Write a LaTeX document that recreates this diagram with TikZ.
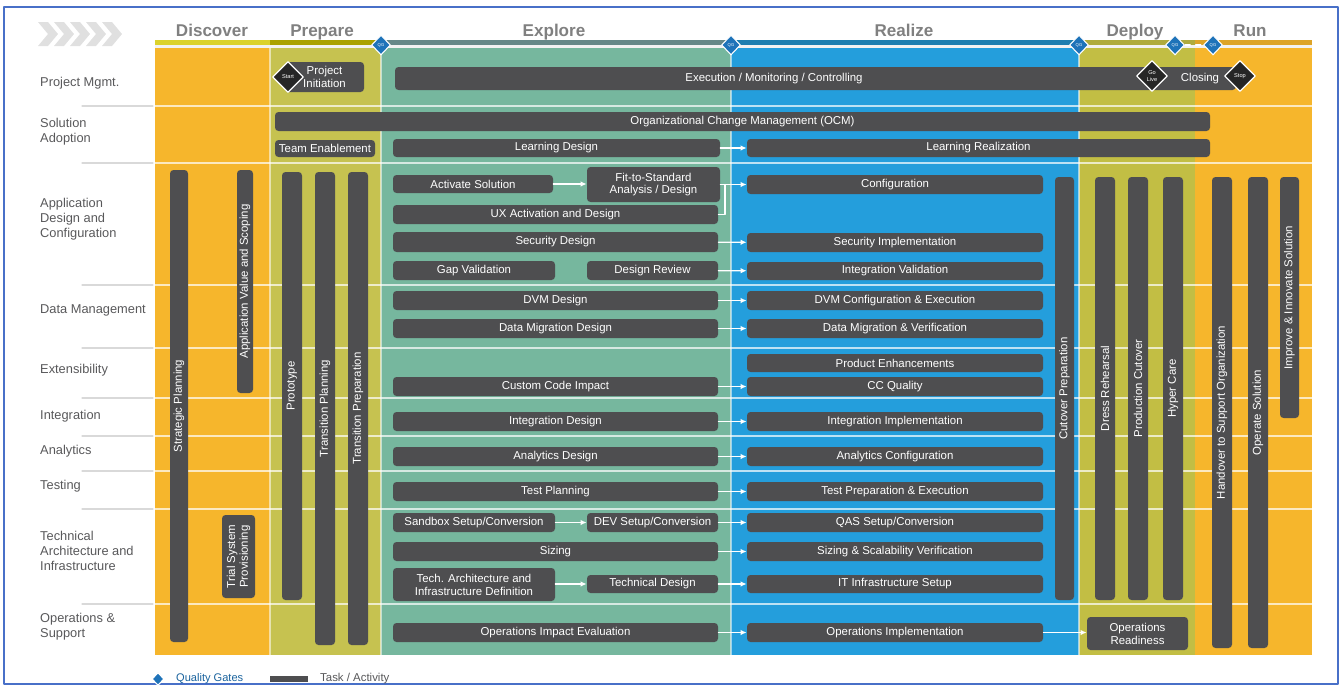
\documentclass[tikz,border=0pt]{standalone}
\usepackage{fontspec}
\setmainfont{Liberation Sans}
\usetikzlibrary{arrows.meta,shapes.geometric}

\definecolor{discoverclr}{RGB}{246,182,44}
\definecolor{prepareclr}{RGB}{198,194,80}
\definecolor{exploreclr}{RGB}{118,183,158}
\definecolor{realizeclr}{RGB}{36,158,220}
\definecolor{deployclr}{RGB}{194,190,68}
\definecolor{runclr}{RGB}{246,182,44}
\definecolor{taskclr}{RGB}{78,78,80}
\definecolor{gateclr}{RGB}{30,115,185}
\definecolor{labelclr}{RGB}{88,88,90}
\definecolor{frameclr}{RGB}{72,112,200}

\tikzset{
  task/.style={
    fill=taskclr,
    rounded corners=2pt,
    text=white,
    inner sep=0pt,
    align=center,
    font=\fontsize{6.5}{7.3}\selectfont
  },
  flow/.style={
    draw=white,
    line width=0.7pt,
    -{Latex[length=3.5pt,width=3.2pt]}
  },
  gate/.style={
    diamond,
    fill=gateclr,
    draw=white,
    line width=0.6pt,
    inner sep=0pt,
    minimum width=3.8mm,
    minimum height=4mm,
    text=white,
    font=\fontsize{2.4}{2.6}\selectfont
  },
  milestone/.style={
    diamond,
    fill=black!85,
    draw=white,
    line width=0.7pt,
    inner sep=0pt,
    minimum width=6.2mm,
    minimum height=6.2mm,
    align=center,
    text=white,
    font=\fontsize{3.2}{3.6}\selectfont
  },
  rowlabel/.style={
    anchor=west,
    align=left,
    text=labelclr,
    font=\fontsize{7.3}{8.6}\selectfont
  },
  phase/.style={
    anchor=base,
    text=black!50,
    font=\bfseries\fontsize{9.7}{11}\selectfont
  },
  rowline/.style={draw=white, opacity=0.7, line width=0.6pt},
  labelline/.style={draw=black!15, line width=0.6pt}
}

% горизонтальная задача: имя, x1, y1, x2, y2, текст
\newcommand{\htask}[6]{%
  \node[task,
    minimum width={(#4-#2)*0.2mm},
    minimum height={(#5-#3)*0.2mm}]
    (#1) at ({(#2+#4)/2},{(#3+#5)/2}) {#6};%
}
% вертикальная задача: имя, x1, y1, x2, y2, текст
\newcommand{\vtask}[6]{%
  \node[task, rotate=90,
    minimum width={(#5-#3)*0.2mm},
    minimum height={(#4-#2)*0.2mm}]
    (#1) at ({(#2+#4)/2},{(#3+#5)/2}) {#6};%
}

\begin{document}
\begin{tikzpicture}[
  x=0.2mm,
  y=-0.2mm,
  line cap=round,
  line join=round
]
  \useasboundingbox (0,0) rectangle (1344,689);

  % Рамка
  \draw[frameclr, line width=0.6pt] (4,7) rectangle (1338,684);

  % Шевроны
  \foreach \cx in {38,54,70,86,102}
    \fill[black!12]
      (\cx,22) -- (\cx+10,22) -- (\cx+20,34) -- (\cx+10,46)
      -- (\cx,46) -- (\cx+10,34) -- cycle;

  % Фазы
  \fill[discoverclr] (155,48) rectangle (270,655);
  \fill[prepareclr] (270,48) rectangle (381,655);
  \fill[exploreclr] (381,48) rectangle (731,655);
  \fill[realizeclr] (731,48) rectangle (1079,655);
  \fill[deployclr] (1079,48) rectangle (1195,655);
  \fill[runclr] (1195,48) rectangle (1312,655);

  \fill[black!5] (155,45) rectangle (1312,48);
  \fill[yellow!60!olive!80] (155,40) rectangle (270,45);
  \fill[olive!75!yellow] (270,40) rectangle (381,45);
  \fill[black!55!teal!60] (381,40) rectangle (731,45);
  \fill[realizeclr!80!black] (731,40) rectangle (1079,45);
  \fill[deployclr!90!black] (1079,40) rectangle (1195,45);
  \fill[runclr!90!black] (1195,40) rectangle (1312,45);

  \node[phase] (discover) at (212,36) {Discover};
  \node[phase] (prepare) at (322,36) {Prepare};
  \node[phase] (explore) at (554,36) {Explore};
  \node[phase] (realize) at (904,36) {Realize};
  \node[phase] (deploy) at (1135,36) {Deploy};
  \node[phase] (run) at (1250,36) {Run};

  % Границы фаз
  \foreach \bx in {270,381,731,1079}
    \draw[white, opacity=0.55, line width=0.6pt] (\bx,48) -- (\bx,655);

  % Строки
  \foreach \ry in {106,163,285,348,398,436,471,509,604} {
    \draw[labelline] (82,\ry) -- (153,\ry);
    \draw[rowline] (155,\ry) -- (1312,\ry);
  }

  \node[rowlabel] (lblPm) at (34,83) {Project Mgmt.};
  \node[rowlabel] (lblSa) at (34,132) {Solution\\Adoption};
  \node[rowlabel] (lblAd) at (34,219) {Application\\Design and\\Configuration};
  \node[rowlabel] (lblDm) at (34,310) {Data Management};
  \node[rowlabel] (lblEx) at (34,370) {Extensibility};
  \node[rowlabel] (lblIn) at (34,416) {Integration};
  \node[rowlabel] (lblAn) at (34,451) {Analytics};
  \node[rowlabel] (lblTe) at (34,486) {Testing};
  \node[rowlabel] (lblTa) at (34,551) {Technical\\Architecture and\\Infrastructure};
  \node[rowlabel] (lblOs) at (34,627) {Operations \&\\Support};

  % Управление проектом
  \htask{init}{285}{62}{364}{92}{Project\\Initiation}
  \htask{exec}{395}{67}{1153}{90}{Execution / Monitoring / Controlling}
  \htask{closing}{1150}{67}{1236}{90}{\hspace{8pt}Closing}
  \node[milestone] (start) at (288,77) {Start};
  \node[milestone] (goLive) at (1152,76) {Go\\Live};
  \node[milestone] (stop) at (1240,76) {Stop};

  % Внедрение решения
  \htask{ocm}{275}{112}{1210}{131}{Organizational Change Management (OCM)}
  \htask{teamEn}{275}{140}{375}{157}{Team Enablement}
  \htask{lrnD}{393}{139}{720}{157}{Learning Design}
  \htask{lrnR}{747}{139}{1210}{157}{Learning Realization}

  % Вертикальные задачи
  \vtask{strat}{170}{170}{188}{642}{Strategic Planning}
  \vtask{appVal}{237}{170}{253}{393}{Application Value and Scoping}
  \vtask{trial}{222}{515}{255}{598}{Trial System\\Provisioning}
  \vtask{proto}{282}{172}{302}{600}{Prototype}
  \vtask{trPlan}{315}{172}{335}{645}{Transition Planning}
  \vtask{trPrep}{348}{172}{368}{645}{Transition Preparation}
  \vtask{cutPrep}{1055}{177}{1074}{600}{Cutover Preparation}
  \vtask{dress}{1095}{177}{1115}{600}{Dress Rehearsal}
  \vtask{prodCut}{1128}{177}{1148}{600}{Production Cutover}
  \vtask{hyper}{1163}{177}{1183}{600}{Hyper Care}
  \vtask{handover}{1212}{177}{1232}{648}{Handover to Support Organization}
  \vtask{operate}{1248}{177}{1268}{648}{Operate Solution}
  \vtask{improve}{1280}{177}{1299}{418}{Improve \& Innovate Solution}

  % Исследование
  \htask{actSol}{393}{175}{553}{193}{Activate Solution}
  \htask{fitStd}{587}{167}{720}{202}{Fit-to-Standard\\Analysis / Design}
  \htask{uxAct}{393}{205}{718}{224}{UX Activation and Design}
  \htask{secD}{393}{232}{718}{252}{Security Design}
  \htask{gapVal}{393}{261}{555}{280}{Gap Validation}
  \htask{desRev}{587}{261}{718}{280}{Design Review}
  \htask{dvmD}{393}{291}{718}{310}{DVM Design}
  \htask{dmD}{393}{319}{718}{338}{Data Migration Design}
  \htask{ccImp}{393}{377}{718}{396}{Custom Code Impact}
  \htask{intD}{393}{412}{718}{431}{Integration Design}
  \htask{anaD}{393}{447}{718}{466}{Analytics Design}
  \htask{testP}{393}{482}{718}{501}{Test Planning}
  \htask{sbx}{393}{513}{555}{532}{Sandbox Setup/Conversion}
  \htask{dev}{587}{513}{718}{532}{DEV Setup/Conversion}
  \htask{sizing}{393}{542}{718}{561}{Sizing}
  \htask{techArch}{393}{568}{555}{601}{Tech. Architecture and\\Infrastructure Definition}
  \htask{techD}{587}{575}{718}{593}{Technical Design}
  \htask{opsImp}{393}{623}{718}{642}{Operations Impact Evaluation}

  % Реализация
  \htask{config}{747}{175}{1043}{194}{Configuration}
  \htask{secI}{747}{233}{1043}{252}{Security Implementation}
  \htask{intVal}{747}{262}{1043}{280}{Integration Validation}
  \htask{dvmC}{747}{291}{1043}{310}{DVM Configuration \& Execution}
  \htask{dmV}{747}{319}{1043}{338}{Data Migration \& Verification}
  \htask{prodEn}{747}{354}{1043}{372}{Product Enhancements}
  \htask{ccQ}{747}{377}{1043}{396}{CC Quality}
  \htask{intI}{747}{412}{1043}{431}{Integration Implementation}
  \htask{anaC}{747}{447}{1043}{466}{Analytics Configuration}
  \htask{testE}{747}{482}{1043}{501}{Test Preparation \& Execution}
  \htask{qas}{747}{513}{1043}{532}{QAS Setup/Conversion}
  \htask{sizV}{747}{542}{1043}{561}{Sizing \& Scalability Verification}
  \htask{itInfra}{747}{575}{1043}{593}{IT Infrastructure Setup}
  \htask{opsI}{747}{623}{1043}{642}{Operations Implementation}
  \htask{opsR}{1087}{617}{1188}{650}{Operations\\Readiness}

  % Стрелки
  \draw[flow] (lrnD) -- (lrnR);
  \draw[flow] (actSol) -- (fitStd.west |- actSol);
  \draw[flow] (fitStd.east) -- (config.west |- fitStd.east);
  \coordinate (brk) at (725,184.5);
  \draw[white, line width=0.7pt] (uxAct.east) -| (brk);
  \draw[flow] (secD) -- (secI);
  \draw[flow] (desRev) -- (intVal);
  \draw[flow] (dvmD) -- (dvmC);
  \draw[flow] (dmD) -- (dmV);
  \draw[flow] (ccImp) -- (ccQ);
  \draw[flow] (intD) -- (intI);
  \draw[flow] (anaD) -- (anaC);
  \draw[flow] (testP) -- (testE);
  \draw[flow] (sbx) -- (dev);
  \draw[flow] (dev) -- (qas);
  \draw[flow] (sizing) -- (sizV);
  \draw[flow] (techArch.east |- techD) -- (techD);
  \draw[flow] (techD) -- (itInfra);
  \draw[flow] (opsImp) -- (opsI);
  \draw[flow] (opsI) -- (opsR.west |- opsI);

  % Контрольные точки качества
  \node[gate] (qg1) at (381,45) {QG};
  \node[gate] (qg2) at (731,45) {QG};
  \node[gate] (qg3) at (1079,45) {QG};
  \node[gate] (qg4) at (1175,45) {QG};
  \node[gate] (qg5) at (1213,45) {QG};
  \draw[white, line width=0.6pt, dashed] (qg4) -- (qg5);

  % Легенда
  \node[gate, minimum width=2.4mm, minimum height=2.6mm] (qgKey) at (158,679) {};
  \node[anchor=west, text=gateclr!85!black, font=\fontsize{6.3}{7}\selectfont]
    (qgTxt) at (170,679) {Quality Gates};
  \node[fill=taskclr, inner sep=0pt, minimum width=7.6mm, minimum height=1.1mm]
    (taskKey) at (289,679) {};
  \node[anchor=west, text=labelclr, font=\fontsize{6.5}{7}\selectfont]
    (taskTxt) at (314,679) {Task / Activity};
\end{tikzpicture}
\end{document}
